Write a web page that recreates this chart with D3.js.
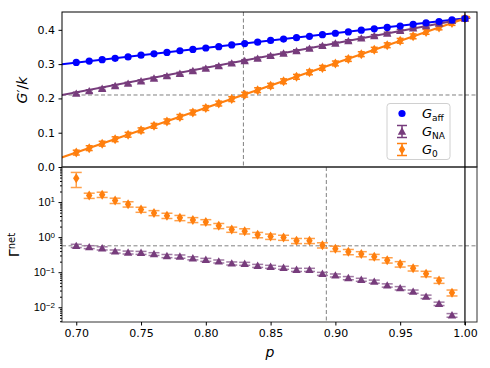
<!DOCTYPE html>
<html>
<head>
<meta charset="utf-8">
<script src="https://cdn.jsdelivr.net/npm/d3@7"></script>
<style>
  body { margin: 0; background: #fff; }
  svg { font-family: "DejaVu Sans", sans-serif; }
</style>
</head>
<body>
<script>
// p values (shared by both panels)
var pTop = [0.70,0.71,0.72,0.73,0.74,0.75,0.76,0.77,0.78,0.79,0.80,0.81,0.82,0.83,0.84,0.85,
            0.86,0.87,0.88,0.89,0.90,0.91,0.92,0.93,0.94,0.95,0.96,0.97,0.98,0.99,1.00];
var gAff = [0.305,0.309,0.313,0.317,0.321,0.326,0.330,0.334,0.339,0.343,0.347,0.351,0.356,0.360,0.364,0.369,
            0.373,0.377,0.381,0.386,0.390,0.394,0.399,0.403,0.407,0.411,0.416,0.420,0.424,0.429,0.433];
var gNA  = [0.214,0.221,0.228,0.236,0.243,0.250,0.258,0.265,0.272,0.280,0.287,0.294,0.302,0.309,0.316,0.324,
            0.331,0.338,0.345,0.353,0.360,0.367,0.375,0.382,0.389,0.397,0.404,0.411,0.418,0.426,0.433];
var gNAErr = [0.004,0.004,0.004,0.004,0.004,0.004,0.004,0.004,0.004,0.004,0.004,0.004,0.004,0.004,0.004,0.004,
              0.004,0.004,0.004,0.004,0.004,0.004,0.004,0.004,0.004,0.004,0.004,0.004,0.004,0.004,0.004];
var g0   = [0.042,0.055,0.068,0.081,0.094,0.107,0.120,0.133,0.146,0.159,0.172,0.185,0.198,0.211,0.224,0.237,
            0.250,0.263,0.276,0.289,0.302,0.315,0.329,0.342,0.355,0.368,0.381,0.394,0.407,0.420,0.433];
var g0Err = [0.007,0.007,0.007,0.007,0.007,0.007,0.007,0.007,0.007,0.007,0.007,0.007,0.007,0.007,0.007,0.007,
             0.007,0.007,0.007,0.007,0.007,0.007,0.007,0.007,0.007,0.007,0.007,0.007,0.007,0.007,0.007];

// theory lines (end points)
var fitP    = [0.685, 1.004];
var gAffFit = [0.298, 0.435];
var gNAFit  = [0.207, 0.435];
var g0Fit   = [0.023, 0.438];

// bottom panel
var pBot = [0.70,0.71,0.72,0.73,0.74,0.75,0.76,0.77,0.78,0.79,0.80,0.81,0.82,0.83,0.84,0.85,
            0.86,0.87,0.88,0.89,0.90,0.91,0.92,0.93,0.94,0.95,0.96,0.97,0.98,0.99];
var gam0 = [48,15.3,16.3,11,8.7,6.1,4.9,4.1,3.55,3.1,2.7,2.1,1.65,1.48,1.16,1.04,
            0.97,0.785,0.785,0.59,0.47,0.38,0.33,0.275,0.22,0.17,0.13,0.090,0.058,0.026];
var gam0Err = [22,2.6,2.8,1.9,1.5,1.0,0.8,0.7,0.6,0.5,0.45,0.35,0.28,0.25,0.2,0.18,
               0.16,0.13,0.13,0.1,0.08,0.065,0.055,0.047,0.038,0.03,0.022,0.016,0.01,0.005];
var gamNA = [0.565,0.52,0.48,0.39,0.365,0.357,0.33,0.29,0.28,0.25,0.226,0.203,0.178,0.174,0.152,0.143,
             0.134,0.117,0.117,0.090,0.081,0.068,0.061,0.054,0.042,0.035,0.028,0.020,0.0126,0.0059];
var gamNAErr = [0.06,0.05,0.05,0.04,0.035,0.035,0.03,0.03,0.03,0.025,0.022,0.02,0.018,0.017,0.015,0.014,
                0.013,0.012,0.012,0.009,0.008,0.007,0.006,0.0055,0.0045,0.0038,0.003,0.0022,0.0014,0.0007];

var topTicks = [0.0,0.1,0.2,0.3,0.4];
var logTicks = [10,1,0.1,0.01];
var xTicks = [0.70,0.75,0.80,0.85,0.90,0.95,1.00];

// reference lines
var gCrit = 0.21, pCritTop = 0.829;
var gamCrit = 0.565, pCritBot = 0.893;

var width = 490, height = 368;
var blue = "#0000ff", purple = "#773c7c", orange = "#ff7f0e";

var svg = d3.select("body").append("svg").attr("width", width).attr("height", height);

var L = 62, R = 477, T1 = 12, B1 = 167, B2 = 322;

var x = d3.scaleLinear().domain([0.689, 1.0093]).range([L, R]);
var yTop = d3.scaleLinear().domain([0, 0.452]).range([B1, T1]);
var yBot = d3.scaleLog().domain([0.0038, 100]).range([B2, B1]);

svg.append("clipPath").attr("id", "clipTop").append("rect")
  .attr("x", L).attr("y", T1).attr("width", R - L).attr("height", B1 - T1);
svg.append("clipPath").attr("id", "clipBot").append("rect")
  .attr("x", L).attr("y", B1).attr("width", R - L).attr("height", B2 - B1);

function diamond(cx, cy, w, h) {
  return "M" + cx + "," + (cy - h) + "L" + (cx + w) + "," + cy + "L" + cx + "," + (cy + h) + "L" + (cx - w) + "," + cy + "Z";
}
function tri(cx, cy, s) {
  return "M" + cx + "," + (cy - s) + "L" + (cx + s) + "," + (cy + s * 0.75) + "L" + (cx - s) + "," + (cy + s * 0.75) + "Z";
}

function errbars(g, px, vals, errs, y, color, cap) {
  px.forEach(function(p, i) {
    var y1 = y(vals[i] + errs[i]), y2 = y(Math.max(vals[i] - errs[i], 1e-6)), cx = x(p);
    g.append("line").attr("x1", cx).attr("x2", cx).attr("y1", y1).attr("y2", y2)
      .attr("stroke", color).attr("stroke-width", 1.5);
    [y1, y2].forEach(function(yy) {
      g.append("line").attr("x1", cx - cap).attr("x2", cx + cap).attr("y1", yy).attr("y2", yy)
        .attr("stroke", color).attr("stroke-width", 1.5);
    });
  });
}

/* ---------- top panel ---------- */
var topG = svg.append("g").attr("clip-path", "url(#clipTop)");

topG.append("line").attr("x1", L).attr("x2", R).attr("y1", yTop(gCrit)).attr("y2", yTop(gCrit))
  .attr("stroke", "#808080").attr("stroke-dasharray", "4,2.5").attr("stroke-width", 1);
topG.append("line").attr("x1", x(pCritTop)).attr("x2", x(pCritTop)).attr("y1", T1).attr("y2", B1)
  .attr("stroke", "#808080").attr("stroke-dasharray", "4,2.5").attr("stroke-width", 1);

var line = d3.line().x(function(d) { return x(d[0]); }).y(function(d) { return yTop(d[1]); });
[[gAffFit, blue], [gNAFit, purple], [g0Fit, orange]].forEach(function(s) {
  topG.append("path").attr("d", line(d3.zip(fitP, s[0])))
    .attr("fill", "none").attr("stroke", s[1]).attr("stroke-width", 2);
});

// G0
errbars(topG, pTop, g0, g0Err, yTop, orange, 3.5);
topG.selectAll(".g0").data(pTop).enter().append("path")
  .attr("d", function(p, i) { return diamond(x(p), yTop(g0[i]), 3.2, 5); })
  .attr("fill", orange);
// GNA
errbars(topG, pTop, gNA, gNAErr, yTop, purple, 3.5);
topG.selectAll(".gna").data(pTop).enter().append("path")
  .attr("d", function(p, i) { return tri(x(p), yTop(gNA[i]), 4.2); })
  .attr("fill", purple);
// Gaff
topG.selectAll(".gaff").data(pTop).enter().append("circle")
  .attr("cx", function(p) { return x(p); })
  .attr("cy", function(p, i) { return yTop(gAff[i]); })
  .attr("r", 3.6).attr("fill", blue);

/* ---------- bottom panel ---------- */
var botG = svg.append("g").attr("clip-path", "url(#clipBot)");

botG.append("line").attr("x1", L).attr("x2", R).attr("y1", yBot(gamCrit)).attr("y2", yBot(gamCrit))
  .attr("stroke", "#808080").attr("stroke-dasharray", "4,2.5").attr("stroke-width", 1);
botG.append("line").attr("x1", x(pCritBot)).attr("x2", x(pCritBot)).attr("y1", B1).attr("y2", B2)
  .attr("stroke", "#808080").attr("stroke-dasharray", "4,2.5").attr("stroke-width", 1);

errbars(botG, pBot, gam0, gam0Err, yBot, "#ffa04a", 5.5);
botG.selectAll(".gam0").data(pBot).enter().append("path")
  .attr("d", function(p, i) { return diamond(x(p), yBot(gam0[i]), 3.2, 5); })
  .attr("fill", orange);
errbars(botG, pBot, gamNA, gamNAErr, yBot, "#a07aa3", 5.5);
botG.selectAll(".gamna").data(pBot).enter().append("path")
  .attr("d", function(p, i) { return tri(x(p), yBot(gamNA[i]), 4.2); })
  .attr("fill", purple);

/* ---------- frames & axes ---------- */
svg.append("rect").attr("x", L).attr("y", T1).attr("width", R - L).attr("height", B1 - T1)
  .attr("fill", "none").attr("stroke", "#000").attr("stroke-width", 1);
svg.append("rect").attr("x", L).attr("y", B1).attr("width", R - L).attr("height", B2 - B1)
  .attr("fill", "none").attr("stroke", "#333").attr("stroke-width", 1);

// black line at p = 1
svg.append("line").attr("x1", x(1)).attr("x2", x(1)).attr("y1", T1).attr("y2", B2 + 3)
  .attr("stroke", "#000").attr("stroke-width", 1.2);

function styleAxis(g) {
  g.select(".domain").remove();
  g.selectAll("text").attr("font-size", 11).attr("fill", "#000")
    .attr("font-family", "DejaVu Sans, sans-serif");
  g.selectAll("line").attr("stroke", "#000");
}

var ayTop = svg.append("g").attr("transform", "translate(" + L + ",0)")
  .call(d3.axisLeft(yTop).tickValues(topTicks).tickFormat(d3.format(".1f")).tickSize(3.5).tickPadding(3.5));
styleAxis(ayTop);

var ayBot = svg.append("g").attr("transform", "translate(" + L + ",0)")
  .call(d3.axisLeft(yBot).tickValues(logTicks).tickFormat("").tickSize(3.5).tickPadding(3.5));
styleAxis(ayBot);
ayBot.selectAll(".tick").each(function(d) {
  var t = d3.select(this).append("text").attr("x", -7).attr("dy", "0.32em")
    .attr("text-anchor", "end").attr("font-size", 11).attr("fill", "#000");
  t.append("tspan").text("10");
  t.append("tspan").attr("dy", "-0.45em").attr("font-size", 8).text(String(Math.round(Math.log10(d))).replace("-", "\u2212"));
});

// minor log ticks
var minor = [];
[0.001, 0.01, 0.1, 1, 10].forEach(function(dec) {
  for (var k = 2; k <= 9; k++) {
    var v = dec * k;
    if (v >= 0.0038 && v <= 100) minor.push(v);
  }
});
var ayMinor = svg.append("g").attr("transform", "translate(" + L + ",0)")
  .call(d3.axisLeft(yBot).tickValues(minor).tickFormat("").tickSize(2));
styleAxis(ayMinor);

var ax = svg.append("g").attr("transform", "translate(0," + B2 + ")")
  .call(d3.axisBottom(x).tickValues(xTicks).tickFormat(d3.format(".2f")).tickSize(3.5).tickPadding(3.5));
styleAxis(ax);

/* ---------- labels ---------- */
svg.append("text").attr("x", 270).attr("y", 357).attr("text-anchor", "middle")
  .attr("font-size", 14).attr("font-style", "italic").text("p");

var yl1 = svg.append("text").attr("transform", "translate(27,90) rotate(-90)")
  .attr("text-anchor", "middle").attr("font-size", 14);
yl1.append("tspan").attr("font-style", "italic").text("G");
yl1.append("tspan").text("\u2032/");
yl1.append("tspan").attr("font-style", "italic").text("k");

var yl2 = svg.append("text").attr("transform", "translate(19,245) rotate(-90)")
  .attr("text-anchor", "middle").attr("font-size", 14);
yl2.append("tspan").text("\u0393");
yl2.append("tspan").attr("dy", "-0.45em").attr("font-size", 10).text("net");

/* ---------- legend ---------- */
var lg = svg.append("g");
lg.append("rect").attr("x", 387).attr("y", 103.5).attr("width", 63).attr("height", 56).attr("rx", 3)
  .attr("fill", "#fff").attr("fill-opacity", 0.8).attr("stroke", "#d0d0d0").attr("stroke-width", 1);
var items = [
  { name: "aff", color: blue, y: 113.5, kind: "circle" },
  { name: "NA", color: purple, y: 131.5, kind: "tri" },
  { name: "0", color: orange, y: 149.5, kind: "dia" }
];
items.forEach(function(it) {
  var cx = 402;
  if (it.kind === "circle") {
    lg.append("circle").attr("cx", cx).attr("cy", it.y).attr("r", 3.6).attr("fill", it.color);
  } else {
    lg.append("line").attr("x1", cx).attr("x2", cx).attr("y1", it.y - 6).attr("y2", it.y + 6)
      .attr("stroke", it.color).attr("stroke-width", 1.5);
    [it.y - 6, it.y + 6].forEach(function(yy) {
      lg.append("line").attr("x1", cx - 5).attr("x2", cx + 5).attr("y1", yy).attr("y2", yy)
        .attr("stroke", it.color).attr("stroke-width", 1.5);
    });
    lg.append("path").attr("d", it.kind === "tri" ? tri(cx, it.y, 4.2) : diamond(cx, it.y, 3.2, 5))
      .attr("fill", it.color);
  }
  var t = lg.append("text").attr("x", 422).attr("y", it.y).attr("dy", "0.35em").attr("font-size", 13);
  t.append("tspan").attr("font-style", "italic").text("G");
  t.append("tspan").attr("dy", "0.3em").attr("font-size", 9).text(it.name);
});
</script>
</body>
</html>
